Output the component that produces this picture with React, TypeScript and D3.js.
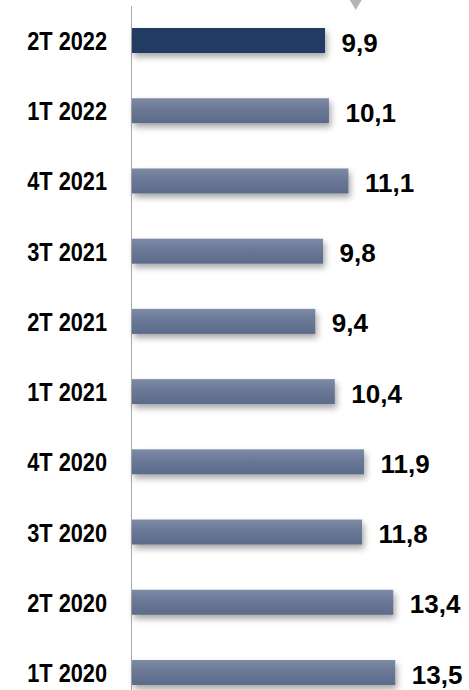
import React from "react"
import { scaleLinear, scalePoint } from "d3"

const categories = ["2T 2022", "1T 2022", "4T 2021", "3T 2021", "2T 2021", "1T 2021", "4T 2020", "3T 2020", "2T 2020", "1T 2020"]
const values = [9.9, 10.1, 11.1, 9.8, 9.4, 10.4, 11.9, 11.8, 13.4, 13.5]
const highlighted = "2T 2022"

const W = 469
const H = 690

export default function App() {
  const x = scaleLinear().domain([0, 14]).range([131.5, 131.5 + 14 * 19.5])
  const y = scalePoint<string>().domain(categories).range([40.5, 672.5])
  const barH = 25
  const fmt = (v: number) => v.toFixed(1).replace(".", ",")
  // narrow look for the category labels (no narrow font installed)
  const sx = 0.87

  return (
    <svg
      width={W}
      height={H}
      style={{ position: "absolute", left: 0, top: 0, display: "block", background: "#fff" }}
    >
      <defs>
        <linearGradient id="barGrad" x1="0" y1="0" x2="0" y2="1">
          <stop offset="0%" stopColor="#7e8ba6" />
          <stop offset="45%" stopColor="#6a7896" />
          <stop offset="100%" stopColor="#5c6b8a" />
        </linearGradient>
        <filter id="shadow" x="-5%" y="-30%" width="115%" height="190%">
          <feDropShadow dx="2" dy="4" stdDeviation="3" floodColor="#000" floodOpacity="0.35" />
        </filter>
      </defs>

      {/* marker triangle on top */}
      <path d={`M${x(11.5) - 6},0 L${x(11.5) + 6},0 L${x(11.5)},10 Z`} fill="#b5b5b5" />

      <line x1={131.5} x2={131.5} y1={6} y2={H} stroke="#aaaaaa" strokeWidth={1} />

      {categories.map((c, i) => {
        const cy = y(c) as number
        const v = values[i]
        return (
          <g key={c}>
            <rect
              x={x(0) + 0.5}
              y={cy - barH / 2}
              width={x(v) - x(0)}
              height={barH}
              fill={c === highlighted ? "#213a63" : "url(#barGrad)"}
              filter="url(#shadow)"
            />
            <text
              transform={`translate(107,${cy + 9.5}) scale(${sx},1)`}
              textAnchor="end"
              fontFamily="'Liberation Sans', Arial, sans-serif"
              fontWeight="bold"
              fontSize={25}
              fill="#000"
            >
              {c}
            </text>
            <text
              x={x(v) + 17}
              y={cy + 11}
              fontFamily="'Liberation Sans', Arial, sans-serif"
              fontWeight="bold"
              fontSize={26}
              fill="#000"
            >
              {fmt(v)}
            </text>
          </g>
        )
      })}
    </svg>
  )
}
